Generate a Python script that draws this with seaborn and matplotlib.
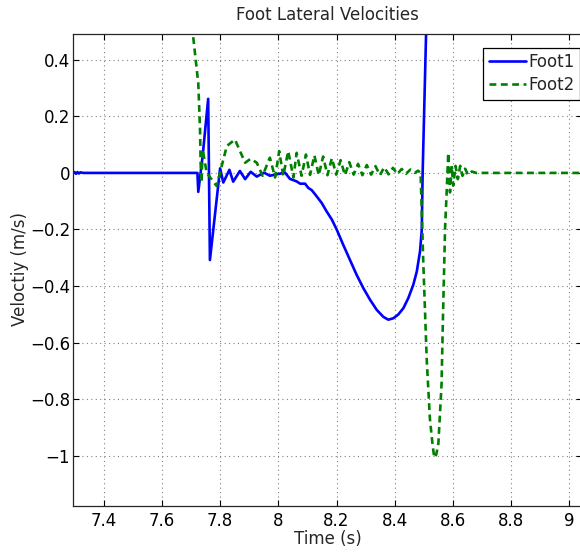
import numpy as np
import pandas as pd
import matplotlib
matplotlib.use("Agg")
import matplotlib.pyplot as plt
import seaborn as sns

# ---- data ----
foot1_t = [7.295, 7.300, 7.305, 7.310, 7.315, 7.320, 7.330, 7.500, 7.700, 7.722,
           7.725, 7.740, 7.759, 7.765, 7.800, 7.811, 7.832, 7.845, 7.868, 7.886,
           7.905, 7.926, 7.951, 7.971, 7.994, 8.023, 8.040, 8.063, 8.075, 8.092,
           8.103, 8.115, 8.132, 8.149, 8.166, 8.184, 8.201, 8.223, 8.246, 8.269,
           8.292, 8.315, 8.338, 8.361, 8.378, 8.395, 8.412, 8.430, 8.447, 8.464,
           8.476, 8.487, 8.493, 8.496, 8.502, 8.508, 8.515, 8.520]
foot1_v = [0.000, 0.003, -0.003, 0.003, -0.002, 0.002, 0.000, 0.000, 0.000, 0.000,
           -0.067, 0.060, 0.262, -0.308, 0.016, -0.034, 0.011, -0.031, 0.007, -0.022,
           0.004, -0.013, 0.001, -0.010, -0.005, 0.001, -0.021, -0.030, -0.038, -0.038,
           -0.053, -0.061, -0.083, -0.106, -0.136, -0.165, -0.201, -0.254, -0.307, -0.360,
           -0.407, -0.448, -0.484, -0.509, -0.519, -0.514, -0.501, -0.478, -0.442, -0.395,
           -0.348, -0.277, -0.201, 0.000, 0.250, 0.500, 0.800, 1.000]

foot2_t = [7.700, 7.707, 7.725, 7.731, 7.733, 7.736, 7.740, 7.754, 7.788, 7.823,
           7.851, 7.886, 7.905, 7.926, 7.946, 7.971, 7.989, 8.003, 8.017, 8.034,
           8.052, 8.063, 8.080, 8.095, 8.109, 8.124, 8.139, 8.154, 8.169, 8.184,
           8.199, 8.214, 8.229, 8.244, 8.259, 8.274, 8.289, 8.304, 8.319, 8.334,
           8.349, 8.364, 8.379, 8.394, 8.409, 8.424, 8.439, 8.454, 8.469, 8.480,
           8.489, 8.498, 8.510, 8.521, 8.530, 8.536, 8.543, 8.550, 8.561, 8.565,
           8.573, 8.579, 8.584, 8.590, 8.596, 8.601, 8.609, 8.617, 8.625, 8.633,
           8.642, 8.652, 8.665, 8.680, 8.700, 8.800, 8.900, 9.050]
foot2_v = [0.600, 0.486, 0.317, 0.153, 0.036, -0.034, 0.083, 0.000, -0.046, 0.095,
           0.118, 0.036, 0.050, 0.036, -0.010, 0.054, -0.016, 0.077, -0.010, 0.077,
           -0.016, 0.071, -0.010, 0.065, -0.007, 0.062, -0.008, 0.058, -0.008, 0.052,
           -0.006, 0.045, -0.008, 0.038, -0.006, 0.032, -0.008, 0.028, -0.006, 0.024,
           -0.008, 0.020, -0.005, 0.018, -0.004, 0.014, -0.003, 0.012, 0.000, 0.008,
           0.000, -0.310, -0.660, -0.870, -0.960, -1.007, -0.995, -0.957, -0.747, -0.548,
           -0.197, -0.057, 0.071, -0.069, 0.025, -0.045, 0.025, -0.022, 0.025, -0.010,
           0.015, -0.007, 0.005, 0.000, 0.000, 0.000, 0.000, 0.000]

x_ticks = [7.4, 7.6, 7.8, 8.0, 8.2, 8.4, 8.6, 8.8, 9.0]
x_tick_labels = ["7.4", "7.6", "7.8", "8", "8.2", "8.4", "8.6", "8.8", "9"]
y_ticks = [-1.0, -0.8, -0.6, -0.4, -0.2, 0.0, 0.2, 0.4]
y_tick_labels = ["\u22121", "\u22120.8", "\u22120.6", "\u22120.4", "\u22120.2", "0", "0.2", "0.4"]

df1 = pd.DataFrame({"t": foot1_t, "v": foot1_v})
df2 = pd.DataFrame({"t": foot2_t, "v": foot2_v})

sns.set_style("ticks")
plt.rcParams["font.family"] = ["DejaVu Sans"]

fig = plt.figure(figsize=(5.80, 5.52), dpi=100)
ax = fig.add_axes([73 / 580, 1 - 505.5 / 552, (582 - 73) / 580, (505.5 - 33.5) / 552])

sns.lineplot(data=df1, x="t", y="v", ax=ax, color="#0000ff", lw=1.9,
             sort=False, estimator=None, label="Foot1")
sns.lineplot(data=df2, x="t", y="v", ax=ax, color="#008000", lw=1.9,
             sort=False, estimator=None, label="Foot2", linestyle=(0, (2.6, 1.7)))

ax.set_xlim(7.2945, 9.0436)
ax.set_ylim(-1.176, 0.493)
ax.set_xticks(x_ticks)
ax.set_xticklabels(x_tick_labels)
ax.set_yticks(y_ticks)
ax.set_yticklabels(y_tick_labels)
ax.tick_params(direction="in", length=4, width=0.8, labelsize=12, colors="#000000",
               top=True, right=True)
ax.tick_params(axis="x", pad=5)
ax.tick_params(axis="y", pad=2)
ax.grid(True, linestyle=(0, (1, 3)), color="#808080", lw=0.8)
for s in ax.spines.values():
    s.set_color("#262626")
    s.set_linewidth(0.9)

ax.set_title("Foot Lateral Velocities", fontsize=12, pad=10)
ax.set_xlabel("Time (s)", fontsize=12, labelpad=0)
ax.set_ylabel("Veloctiy (m/s)", fontsize=12, labelpad=1)

leg = ax.legend(loc="upper left", bbox_to_anchor=(483 / 580, 1 - 47.5 / 552),
                bbox_transform=fig.transFigure, fontsize=12, frameon=True,
                fancybox=False, handlelength=2.2, handletextpad=0.15,
                borderpad=0.35, labelspacing=0.3, borderaxespad=0)
leg.get_frame().set_edgecolor("black")
leg.get_frame().set_linewidth(0.9)
leg.get_frame().set_alpha(1)

fig.savefig("out.png", dpi=100)
